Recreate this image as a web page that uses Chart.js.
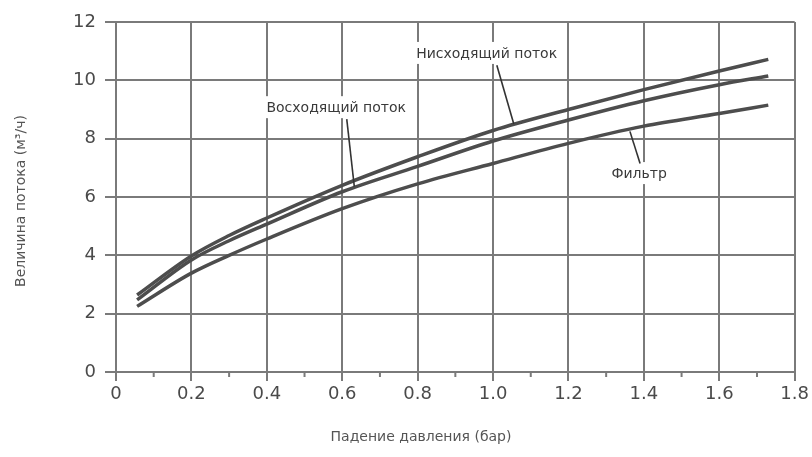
<!DOCTYPE html>
<html>
<head>
<meta charset="utf-8">
<script src="https://cdn.jsdelivr.net/npm/chart.js@4"></script>
<style>
    html, body { margin: 0; padding: 0; background: #fff; }
</style>
</head>
<body>
<canvas id="flowChart" width="812" height="457"></canvas>
<script>
// Падение давления (бар) - точки
const pressureDrop = [0.056, 0.2, 0.3, 0.4, 0.6, 0.8, 1.0, 1.2, 1.4, 1.6, 1.73];
const downFlow = [2.64, 3.98, 4.68, 5.28, 6.4, 7.38, 8.28, 9.0, 9.68, 10.32, 10.72];
const upFlow = [2.47, 3.84, 4.5, 5.07, 6.18, 7.05, 7.92, 8.64, 9.3, 9.85, 10.15];
const filterFlow = [2.25, 3.39, 4.0, 4.56, 5.6, 6.45, 7.15, 7.84, 8.43, 8.86, 9.15];

const xTickLabels = ['0', '0.2', '0.4', '0.6', '0.8', '1.0', '1.2', '1.4', '1.6', '1.8'];
const yTickLabels = ['0', '2', '4', '6', '8', '10', '12'];

const xTitle = 'Падение давления (бар)';
const yTitle = 'Величина потока (м³/ч)';

// подписи кривых: текст, позиция текста и выноска (в единицах осей)
const curveLabels = [
    { text: 'Нисходящий поток', x: 0.796, y: 10.94, from: [1.01, 10.52], to: [1.055, 8.5] },
    { text: 'Восходящий поток', x: 0.399, y: 9.08, from: [0.612, 8.67], to: [0.632, 6.36] },
    { text: 'Фильтр', x: 1.314, y: 6.82, from: [1.363, 8.25], to: [1.39, 7.15] }
];

const GRID = '#7a7a7a';
const LINE = '#4d4d4d';
const FONT = 'DejaVu Sans';

function toPoints(values) {
    return pressureDrop.map((x, i) => ({ x: x, y: values[i] }));
}

function makeDataset(label, values) {
    return {
        label: label,
        data: toPoints(values),
        borderColor: LINE,
        borderWidth: 3.5,
        pointRadius: 0,
        cubicInterpolationMode: 'monotone',
        fill: false
    };
}

// мелкие засечки на оси X через 0.1
const minorTicks = {
    id: 'minorTicks',
    afterDraw(chart) {
        const ctx = chart.ctx;
        const xs = chart.scales.x;
        const y0 = chart.chartArea.bottom;
        ctx.save();
        ctx.strokeStyle = GRID;
        ctx.lineWidth = 2;
        for (let v = 0.1; v < 1.8; v += 0.2) {
            const px = xs.getPixelForValue(v);
            ctx.beginPath();
            ctx.moveTo(px, y0);
            ctx.lineTo(px, y0 + 5);
            ctx.stroke();
        }
        ctx.restore();
    }
};

// подписи кривых с белым фоном и выносками
const curveLabelPlugin = {
    id: 'curveLabels',
    afterDatasetsDraw(chart) {
        const ctx = chart.ctx;
        const xs = chart.scales.x;
        const ys = chart.scales.y;
        ctx.save();
        ctx.font = `14px "${FONT}"`;
        ctx.textBaseline = 'middle';
        curveLabels.forEach(lbl => {
            const tx = xs.getPixelForValue(lbl.x);
            const ty = ys.getPixelForValue(lbl.y);
            const w = ctx.measureText(lbl.text).width;
            ctx.fillStyle = '#fff';
            ctx.fillRect(tx - 2, ty - 11, w + 4, 22);
            ctx.fillStyle = '#3a3a3a';
            ctx.fillText(lbl.text, tx, ty + 1);

            ctx.strokeStyle = '#333';
            ctx.lineWidth = 1.6;
            ctx.beginPath();
            ctx.moveTo(xs.getPixelForValue(lbl.from[0]), ys.getPixelForValue(lbl.from[1]));
            ctx.lineTo(xs.getPixelForValue(lbl.to[0]), ys.getPixelForValue(lbl.to[1]));
            ctx.stroke();
        });
        ctx.restore();
    }
};

// названия осей
const axisTitles = {
    id: 'axisTitles',
    afterDraw(chart) {
        const ctx = chart.ctx;
        ctx.save();
        ctx.font = `14px "${FONT}"`;
        ctx.fillStyle = '#555';
        ctx.textAlign = 'center';
        ctx.textBaseline = 'middle';
        ctx.fillText(xTitle, 421, 437);
        ctx.translate(21, 201);
        ctx.rotate(-Math.PI / 2);
        ctx.fillText(yTitle, 0, 0);
        ctx.restore();
    }
};

const ctx = document.getElementById('flowChart').getContext('2d');
new Chart(ctx, {
    type: 'line',
    data: {
        datasets: [
            makeDataset('Нисходящий поток', downFlow),
            makeDataset('Восходящий поток', upFlow),
            makeDataset('Фильтр', filterFlow)
        ]
    },
    options: {
        responsive: false,
        animation: false,
        layout: { padding: { top: 22, right: 0, left: 0, bottom: 0 } },
        plugins: {
            legend: { display: false },
            tooltip: { enabled: false }
        },
        scales: {
            x: {
                type: 'linear',
                min: 0,
                max: 1.8,
                afterFit: scale => { scale.height = 85; },
                border: { color: GRID, width: 2 },
                grid: { color: GRID, lineWidth: 2, tickLength: 9, tickColor: GRID },
                ticks: {
                    stepSize: 0.2,
                    padding: 3,
                    color: '#4a4a4a',
                    font: { family: FONT, size: 18 },
                    maxRotation: 0,
                    callback: (v, i) => xTickLabels[i]
                }
            },
            y: {
                min: 0,
                max: 12,
                afterFit: scale => { scale.width = 116; },
                border: { color: GRID, width: 2 },
                grid: { color: GRID, lineWidth: 2, tickLength: 11, tickColor: GRID },
                ticks: {
                    stepSize: 2,
                    padding: 9,
                    color: '#4a4a4a',
                    font: { family: FONT, size: 18 },
                    callback: (v, i) => yTickLabels[i]
                }
            }
        }
    },
    plugins: [minorTicks, curveLabelPlugin, axisTitles]
});
</script>
</body>
</html>
